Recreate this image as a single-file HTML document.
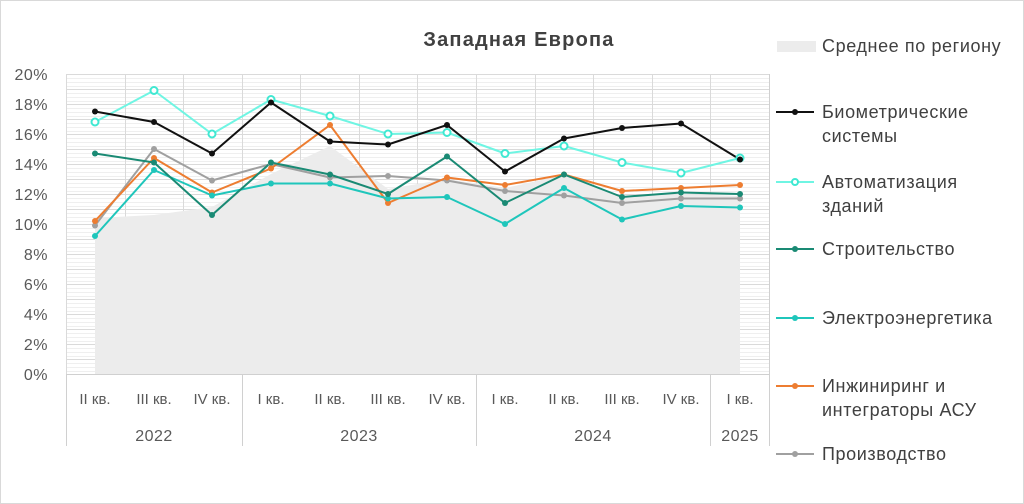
<!DOCTYPE html>
<html><head><meta charset="utf-8"><style>
html,body{margin:0;padding:0;background:#fff}
svg{display:block;font-family:"Liberation Sans","DejaVu Sans",sans-serif}
</style></head><body>
<svg width="1024" height="504" viewBox="0 0 1024 504">
<rect x="0.5" y="0.5" width="1023" height="503" fill="#fff" stroke="#d9d9d9"/>
<text x="519" y="46" font-size="20" font-weight="bold" fill="#404040" text-anchor="middle" letter-spacing="1.2">Западная Европа</text>
<g stroke="#efefef" stroke-width="1">
<path d="M66 78.5H769M66 82.5H769M66 86.5H769M66 93.5H769M66 97.5H769M66 101.5H769M66 108.5H769M66 112.5H769M66 116.5H769M66 123.5H769M66 127.5H769M66 131.5H769M66 138.5H769M66 142.5H769M66 146.5H769M66 153.5H769M66 157.5H769M66 161.5H769M66 168.5H769M66 172.5H769M66 176.5H769M66 183.5H769M66 187.5H769M66 191.5H769M66 198.5H769M66 202.5H769M66 206.5H769M66 213.5H769M66 217.5H769M66 221.5H769M66 228.5H769M66 232.5H769M66 236.5H769M66 243.5H769M66 247.5H769M66 251.5H769M66 258.5H769M66 262.5H769M66 266.5H769M66 273.5H769M66 277.5H769M66 281.5H769M66 288.5H769M66 292.5H769M66 296.5H769M66 303.5H769M66 307.5H769M66 311.5H769M66 318.5H769M66 322.5H769M66 326.5H769M66 333.5H769M66 337.5H769M66 341.5H769M66 348.5H769M66 352.5H769M66 356.5H769M66 363.5H769M66 367.5H769M66 371.5H769"/>
</g>
<g stroke="#dadada" stroke-width="1">
<path d="M66 74.5H769M66 89.5H769M66 104.5H769M66 119.5H769M66 134.5H769M66 149.5H769M66 164.5H769M66 179.5H769M66 194.5H769M66 209.5H769M66 224.5H769M66 239.5H769M66 254.5H769M66 269.5H769M66 284.5H769M66 299.5H769M66 314.5H769M66 329.5H769M66 344.5H769M66 359.5H769"/>
<path d="M66.5 74V374M125.5 74V374M183.5 74V374M242.5 74V374M300.5 74V374M359.5 74V374M417.5 74V374M476.5 74V374M535.5 74V374M593.5 74V374M652.5 74V374M710.5 74V374M769.5 74V374"/>
</g>
<polygon fill="#ececec" points="95,374 95,218 154,215 212,207 271,174 330,146 388,189 447,179 505,188 564,175 622,197 681,194 740,196 740,374"/>
<g stroke="#d0d0d0" stroke-width="1">
<path d="M66 374.5H769M66.5 374V446M242.5 374V446M476.5 374V446M710.5 374V446M769.5 74V446"/>
</g>
<g font-size="16" fill="#595959" text-anchor="end" letter-spacing="0.5">
<text x="48" y="80">20%</text><text x="48" y="110">18%</text><text x="48" y="140">16%</text><text x="48" y="170">14%</text><text x="48" y="200">12%</text><text x="48" y="230">10%</text><text x="48" y="260">8%</text><text x="48" y="290">6%</text><text x="48" y="320">4%</text><text x="48" y="350">2%</text><text x="48" y="380">0%</text>
</g>
<g font-size="15" fill="#595959" text-anchor="middle">
<text x="95" y="404">II кв.</text><text x="154" y="404">III кв.</text><text x="212" y="404">IV кв.</text><text x="271" y="404">I кв.</text><text x="330" y="404">II кв.</text><text x="388" y="404">III кв.</text><text x="447" y="404">IV кв.</text><text x="505" y="404">I кв.</text><text x="564" y="404">II кв.</text><text x="622" y="404">III кв.</text><text x="681" y="404">IV кв.</text><text x="740" y="404">I кв.</text>
</g>
<g font-size="16" fill="#595959" text-anchor="middle" letter-spacing="0.5">
<text x="154" y="441">2022</text><text x="359" y="441">2023</text><text x="593" y="441">2024</text><text x="740" y="441">2025</text>
</g>
<g fill="none" stroke-width="2" stroke-linejoin="round">
<polyline stroke="#a0a0a0" points="95,225.5 154,149 212,180.5 271,164 330,177.5 388,176 447,180.5 505,191 564,195.5 622,203 681,198.5 740,198.5"/>
<polyline stroke="#ed7d31" points="95,221 154,158 212,192.5 271,168.5 330,125 388,203 447,177.5 505,185 564,174.5 622,191 681,188 740,185"/>
<polyline stroke="#1fc6bb" points="95,236 154,170 212,195.5 271,183.5 330,183.5 388,198.5 447,197 505,224 564,188 622,219.5 681,206 740,207.5"/>
<polyline stroke="#1a8a74" points="95,153.5 154,162.5 212,215 271,162.5 330,174.5 388,194 447,156.5 505,203 564,174.5 622,197 681,192.5 740,194"/>
<polyline stroke="#6ff5e3" points="95,122 154,90.5 212,134 271,99.5 330,116 388,134 447,132.5 505,153.5 564,146 622,162.5 681,173 740,158"/>
<polyline stroke="#111" points="95,111.5 154,122 212,153.5 271,102.5 330,141.5 388,144.5 447,125 505,171.5 564,138.5 622,128 681,123.5 740,159.5"/>
</g>
<g>
<g fill="#a0a0a0"><circle cx="95" cy="225.5" r="3"/><circle cx="154" cy="149" r="3"/><circle cx="212" cy="180.5" r="3"/><circle cx="271" cy="164" r="3"/><circle cx="330" cy="177.5" r="3"/><circle cx="388" cy="176" r="3"/><circle cx="447" cy="180.5" r="3"/><circle cx="505" cy="191" r="3"/><circle cx="564" cy="195.5" r="3"/><circle cx="622" cy="203" r="3"/><circle cx="681" cy="198.5" r="3"/><circle cx="740" cy="198.5" r="3"/></g>
<g fill="#ed7d31"><circle cx="95" cy="221" r="3"/><circle cx="154" cy="158" r="3"/><circle cx="212" cy="192.5" r="3"/><circle cx="271" cy="168.5" r="3"/><circle cx="330" cy="125" r="3"/><circle cx="388" cy="203" r="3"/><circle cx="447" cy="177.5" r="3"/><circle cx="505" cy="185" r="3"/><circle cx="564" cy="174.5" r="3"/><circle cx="622" cy="191" r="3"/><circle cx="681" cy="188" r="3"/><circle cx="740" cy="185" r="3"/></g>
<g fill="#1fc6bb"><circle cx="95" cy="236" r="3"/><circle cx="154" cy="170" r="3"/><circle cx="212" cy="195.5" r="3"/><circle cx="271" cy="183.5" r="3"/><circle cx="330" cy="183.5" r="3"/><circle cx="388" cy="198.5" r="3"/><circle cx="447" cy="197" r="3"/><circle cx="505" cy="224" r="3"/><circle cx="564" cy="188" r="3"/><circle cx="622" cy="219.5" r="3"/><circle cx="681" cy="206" r="3"/><circle cx="740" cy="207.5" r="3"/></g>
<g fill="#1a8a74"><circle cx="95" cy="153.5" r="3"/><circle cx="154" cy="162.5" r="3"/><circle cx="212" cy="215" r="3"/><circle cx="271" cy="162.5" r="3"/><circle cx="330" cy="174.5" r="3"/><circle cx="388" cy="194" r="3"/><circle cx="447" cy="156.5" r="3"/><circle cx="505" cy="203" r="3"/><circle cx="564" cy="174.5" r="3"/><circle cx="622" cy="197" r="3"/><circle cx="681" cy="192.5" r="3"/><circle cx="740" cy="194" r="3"/></g>
<g fill="#fff" stroke="#40e8d2" stroke-width="2"><circle cx="95" cy="122" r="3.5"/><circle cx="154" cy="90.5" r="3.5"/><circle cx="212" cy="134" r="3.5"/><circle cx="271" cy="99.5" r="3.5"/><circle cx="330" cy="116" r="3.5"/><circle cx="388" cy="134" r="3.5"/><circle cx="447" cy="132.5" r="3.5"/><circle cx="505" cy="153.5" r="3.5"/><circle cx="564" cy="146" r="3.5"/><circle cx="622" cy="162.5" r="3.5"/><circle cx="681" cy="173" r="3.5"/><circle cx="740" cy="158" r="3.5"/></g>
<g fill="#111"><circle cx="95" cy="111.5" r="3"/><circle cx="154" cy="122" r="3"/><circle cx="212" cy="153.5" r="3"/><circle cx="271" cy="102.5" r="3"/><circle cx="330" cy="141.5" r="3"/><circle cx="388" cy="144.5" r="3"/><circle cx="447" cy="125" r="3"/><circle cx="505" cy="171.5" r="3"/><circle cx="564" cy="138.5" r="3"/><circle cx="622" cy="128" r="3"/><circle cx="681" cy="123.5" r="3"/><circle cx="740" cy="159.5" r="3"/></g>
</g>
<rect x="777" y="41" width="39" height="11" fill="#ececec"/>
<g stroke-width="2">
<line x1="776" y1="112" x2="814" y2="112" stroke="#111"/><circle cx="795" cy="112" r="3" fill="#111"/>
<line x1="776" y1="182" x2="814" y2="182" stroke="#6ff5e3"/><circle cx="795" cy="182" r="3" fill="#fff" stroke="#40e8d2"/>
<line x1="776" y1="249" x2="814" y2="249" stroke="#1a8a74"/><circle cx="795" cy="249" r="3" fill="#1a8a74"/>
<line x1="776" y1="318" x2="814" y2="318" stroke="#1fc6bb"/><circle cx="795" cy="318" r="3" fill="#1fc6bb"/>
<line x1="776" y1="386" x2="814" y2="386" stroke="#ed7d31"/><circle cx="795" cy="386" r="3" fill="#ed7d31"/>
<line x1="776" y1="454" x2="814" y2="454" stroke="#a0a0a0"/><circle cx="795" cy="454" r="3" fill="#a0a0a0"/>
</g>
<g font-size="18" fill="#404040" letter-spacing="0.6">
<text x="822" y="52">Среднее по региону</text>
<text x="822" y="118">Биометрические</text><text x="822" y="142">системы</text>
<text x="822" y="188">Автоматизация</text><text x="822" y="212">зданий</text>
<text x="822" y="255">Строительство</text>
<text x="822" y="324">Электроэнергетика</text>
<text x="822" y="392">Инжиниринг и</text><text x="822" y="416">интеграторы АСУ</text>
<text x="822" y="460">Производство</text>
</g>
</svg>
</body></html>
